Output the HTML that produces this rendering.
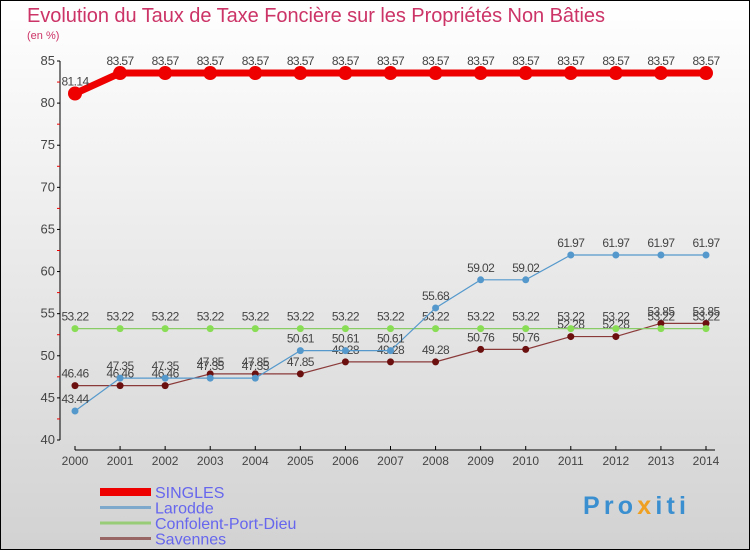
<!DOCTYPE html>
<html><head><meta charset="utf-8"><style>
body{margin:0}
#c{width:750px;height:550px;position:relative;overflow:hidden;font-family:"Liberation Sans",sans-serif;}
</style></head><body>
<div id="c">
<svg id="s" width="750" height="550" xmlns="http://www.w3.org/2000/svg" font-family="Liberation Sans, sans-serif">
<defs><linearGradient id="bg" x1="0" y1="0" x2="0" y2="1"><stop offset="0" stop-color="#ffffff"/><stop offset="1" stop-color="#d2d2d2"/></linearGradient></defs>
<rect x="0.5" y="0.5" width="749" height="549" fill="url(#bg)" stroke="#000"/>
<text x="27" y="22" font-size="20" fill="#cc3366" textLength="578">Evolution du Taux de Taxe Foncière sur les Propriétés Non Bâties</text>
<text x="27" y="39" font-size="11" fill="#cc3366">(en %)</text>
<g id="axes"></g><g id="series"></g><g id="legend"></g>
<text x="583" y="514" font-size="25" font-weight="bold" fill="#3a8fd0" textLength="103">Pro<tspan fill="#f0a020">x</tspan>iti</text>
</svg></div>
<script>
const years=[2000,2001,2002,2003,2004,2005,2006,2007,2008,2009,2010,2011,2012,2013,2014];
const yTicks=[40,45,50,55,60,65,70,75,80,85];
const singles=[81.14,83.57,83.57,83.57,83.57,83.57,83.57,83.57,83.57,83.57,83.57,83.57,83.57,83.57,83.57];
const larodde=[43.44,47.35,47.35,47.35,47.35,50.61,50.61,50.61,55.68,59.02,59.02,61.97,61.97,61.97,61.97];
const confolent=[53.22,53.22,53.22,53.22,53.22,53.22,53.22,53.22,53.22,53.22,53.22,53.22,53.22,53.22,53.22];
const savennes=[46.46,46.46,46.46,47.85,47.85,47.85,49.28,49.28,49.28,50.76,50.76,52.28,52.28,53.85,53.85];
const NS="http://www.w3.org/2000/svg";
function X(i){return 75+i*(706-75)/(years.length-1);}
function Y(v){return 440-(v-40)*(440-61)/45;}
function mk(tag,attrs,parent,txt){const e=document.createElementNS(NS,tag);for(const k in attrs)e.setAttribute(k,attrs[k]);if(txt!==undefined)e.textContent=txt;parent.appendChild(e);return e;}
const ax=document.getElementById('axes');
let l=mk('line',{x1:60,y1:Y(85),x2:60,y2:Y(40),stroke:'#000'},ax);


yTicks.forEach(v=>{
  mk('line',{x1:57,y1:Y(v),x2:60,y2:Y(v),stroke:'#000'},ax);
  if(v<85) mk('line',{x1:57,y1:Y(v+2.5),x2:60,y2:Y(v+2.5),stroke:'#e00'},ax);
  const t=mk('text',{x:55,y:Y(v)+4,'font-size':13,fill:'#444','text-anchor':'end'},ax,v);
  
  
});
l=mk('line',{x1:75,y1:450,x2:715,y2:450,stroke:'#000'},ax);


years.forEach((y,i)=>{
  mk('line',{x1:X(i),y1:446,x2:X(i),y2:450,stroke:'#000'},ax);
  const t=mk('text',{x:X(i),y:465,'font-size':12,fill:'#444','text-anchor':'middle'},ax,y);
  
  
});
const sg=document.getElementById('series');
function draw(name,data,color,w,r,fill){
  const g=mk('g',{},sg);
  
  
  mk('polyline',{points:data.map((v,i)=>X(i)+','+Y(v)).join(' '),fill:'none',stroke:color,'stroke-width':w},g);
  data.forEach((v,i)=>{
    const c=mk('circle',{cx:X(i),cy:Y(v),r:r,fill:fill},g);
    
    
    const t=mk('text',{x:X(i),y:Y(v)-8,'font-size':12,fill:'#444','text-anchor':'middle','letter-spacing':'-0.6'},g,v.toFixed(2));
    
    
  });
}
draw('savennes',savennes,'#8b3a3a',1.2,3.5,'#6b0f0f');
draw('confolent',confolent,'#88cc66',1.2,3.5,'#88dd55');
draw('larodde',larodde,'#5599cc',1.2,3.5,'#5599cc');
draw('singles',singles,'#ee0000',7,7,'#ee0000');
const lg=document.getElementById('legend');
[['SINGLES','#ee0000',8],['Larodde','#7fa9cc',3],['Confolent-Port-Dieu','#99cc77',3],['Savennes','#996666',3]].forEach((d,i)=>{
  const y=492+i*15.5;
  const g=mk('g',{},lg);
  
  
  mk('line',{x1:100,y1:y,x2:151,y2:y,stroke:d[1],'stroke-width':d[2]},g);
  mk('text',{x:155,y:y+6,'font-size':16,fill:'#6666ee'},g,d[0]);
});
</script>
</body></html>
